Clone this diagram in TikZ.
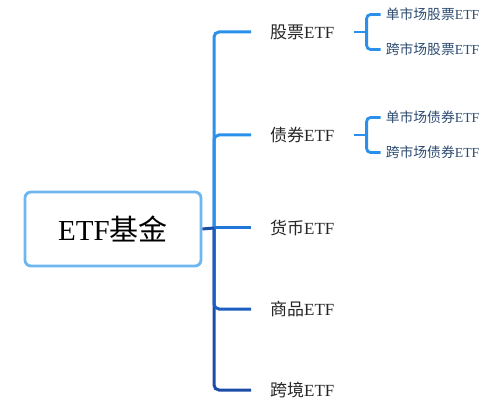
\documentclass[tikz,border=0pt]{standalone}
\usepackage{fontspec}
\setmainfont{Liberation Serif}
\newfontfamily\cjk{Noto Sans CJK SC}
\usetikzlibrary{positioning}
\definecolor{rootline}{HTML}{6CB6F2}
\definecolor{blueA}{HTML}{2A90EC}
\definecolor{blueB}{HTML}{2176DA}
\definecolor{blueC}{HTML}{1B5EC0}
\definecolor{blueD}{HTML}{1C4DA6}
\definecolor{subtext}{HTML}{2D4B70}
\newcommand{\zh}[1]{{\cjk #1}}
\tikzset{
	rootbox/.style={draw=rootline, line width=2.8pt, rounded corners=6pt, fill=white, minimum width=176pt, minimum height=74pt, font=\fontsize{29}{32}\selectfont},
	topic/.style={anchor=west, inner xsep=19pt, inner ysep=2pt, text=black!85, font=\fontsize{17}{19}\selectfont},
	subtopic/.style={anchor=west, inner xsep=5pt, inner ysep=1pt, text=subtext, font=\fontsize{13.8}{15}\selectfont},
	branch/.style={line width=3pt, rounded corners=5pt},
	twig/.style={line width=2.8pt, rounded corners=4pt, blueA}
}
\begin{document}
\begin{tikzpicture}[x=1pt, y=-1pt]
				\useasboundingbox (0,0) rectangle (499,412);
				%root
				\node[rootbox] (root) at (113,229) {ETF\zh{基金}};
				\coordinate (tr) at (214,228);
				
				%main topics
				\node[topic] (gp) at (251,32) {\zh{股票}ETF};
				\node[topic] (zq) at (251,135) {\zh{债券}ETF};
				\node[topic] (hb) at (251,228) {\zh{货币}ETF};
				\node[topic] (sp) at (251,309) {\zh{商品}ETF};
				\node[topic] (kj) at (251,390) {\zh{跨境}ETF};
				
				\draw[branch, blueA] (tr) |- (gp.west);
				\draw[branch, blueA] (tr) |- (zq.west);
				\draw[branch, blueD] (tr) |- (kj.west);
				\draw[branch, blueC] (tr) |- (sp.west);
				\draw[branch, blueB] (tr) -- (hb.west);
				\draw[branch, blueD] (root.east) -- (tr);
				
				%sub topics
				\coordinate (gpk) at ([xshift=13pt]gp.east);
				\coordinate (zqk) at ([xshift=13pt]zq.east);
				\node[subtopic] (gp1) at ([xshift=14pt, yshift=17.5pt]gpk) {\zh{单市场股票}ETF};
				\node[subtopic] (gp2) at ([xshift=14pt, yshift=-17.5pt]gpk) {\zh{跨市场股票}ETF};
				\node[subtopic] (zq1) at ([xshift=14pt, yshift=17.5pt]zqk) {\zh{单市场债券}ETF};
				\node[subtopic] (zq2) at ([xshift=14pt, yshift=-17.5pt]zqk) {\zh{跨市场债券}ETF};
				
				\draw[twig] (gp.east) -- (gpk);
				\draw[twig] (gpk) |- (gp1.west);
				\draw[twig] (gpk) |- (gp2.west);
				\draw[twig] (zq.east) -- (zqk);
				\draw[twig] (zqk) |- (zq1.west);
				\draw[twig] (zqk) |- (zq2.west);
			\end{tikzpicture}
\end{document}
